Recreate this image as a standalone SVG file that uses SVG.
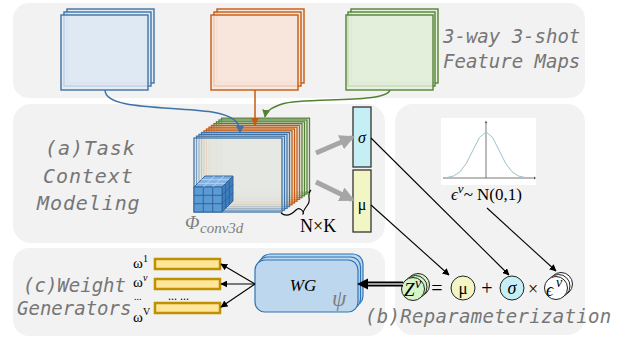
<svg xmlns="http://www.w3.org/2000/svg" width="628" height="339" viewBox="0 0 628 339">
  <style>
    .panel { fill: #f2f2f2; }
    .ptxt { font-family: "DejaVu Sans Mono", monospace; font-style: oblique; font-size: 19px; fill: #767676; }
    .math { font-family: "Liberation Serif", serif; fill: #000; }
    .it { font-style: italic; }
    .thin { stroke: #000; stroke-width: 1.1; fill: none; }
    .bar { fill: #ffe699; stroke: #bf9000; stroke-width: 2.5; }
  </style>
  <defs>
    <marker id="ah" viewBox="0 0 10 10" refX="9" refY="5" markerWidth="7" markerHeight="7" markerUnits="userSpaceOnUse" orient="auto">
      <path d="M0,0 L10,5 L0,10 z" fill="#000"/>
    </marker>
    <marker id="ahBlue" viewBox="0 0 10 10" refX="9" refY="5" markerWidth="8" markerHeight="8" markerUnits="userSpaceOnUse" orient="auto">
      <path d="M0,0 L10,5 L0,10 z" fill="#3f72a6"/>
    </marker>
    <marker id="ahOrange" viewBox="0 0 10 10" refX="9" refY="5" markerWidth="8" markerHeight="8" markerUnits="userSpaceOnUse" orient="auto">
      <path d="M0,0 L10,5 L0,10 z" fill="#c55a11"/>
    </marker>
    <marker id="ahGreen" viewBox="0 0 10 10" refX="9" refY="5" markerWidth="8" markerHeight="8" markerUnits="userSpaceOnUse" orient="auto">
      <path d="M0,0 L10,5 L0,10 z" fill="#548235"/>
    </marker>
    <marker id="ahGray" viewBox="0 0 10 10" refX="8" refY="5" markerWidth="15" markerHeight="15" markerUnits="userSpaceOnUse" orient="auto">
      <path d="M0,0 L10,5 L0,10 z" fill="#a6a6a6"/>
    </marker>
  </defs>

  <rect width="628" height="339" fill="#fff"/>

  <!-- background panels -->
  <g id="panels">
    <rect class="panel" x="13" y="3" width="572" height="95" rx="16"/>
    <rect class="panel" x="13" y="104" width="372" height="139" rx="18"/>
    <rect class="panel" x="395" y="104" width="190" height="231" rx="18"/>
    <rect class="panel" x="13" y="248" width="372" height="88" rx="16"/>
  </g>

  <!-- feature maps of the three classes -->
  <g id="map-blue" fill="#dfe8f3" stroke="#3f72a6" stroke-width="1.4">
    <rect x="67" y="9" width="87" height="74" fill-opacity="0.8"/>
    <rect x="64" y="12" width="87" height="74" fill-opacity="0.8"/>
    <rect x="61" y="15" width="87" height="75" fill-opacity="0.8"/>
  </g>
  <g id="map-orange" fill="#f8e5db" stroke="#c55a11" stroke-width="1.4">
    <rect x="217" y="9" width="87" height="74" fill-opacity="0.8"/>
    <rect x="214" y="12" width="87" height="74" fill-opacity="0.8"/>
    <rect x="211" y="15" width="87" height="75" fill-opacity="0.8"/>
  </g>
  <g id="map-green" fill="#e2efd9" stroke="#548235" stroke-width="1.4">
    <rect x="351" y="9" width="87" height="74" fill-opacity="0.8"/>
    <rect x="348" y="12" width="87" height="74" fill-opacity="0.8"/>
    <rect x="346" y="15" width="87" height="75" fill-opacity="0.8"/>
  </g>
  <g id="label-maps" class="ptxt">
    <text x="443" y="43">3-way 3-shot</text>
    <text x="443" y="68">Feature Maps</text>
  </g>

  <!-- (a) task context modeling -->
  <g id="label-a" class="ptxt" style="font-size:20px;letter-spacing:0.9px">
    <text x="45" y="155">(a)Task</text>
    <text x="43" y="183">Context</text>
    <text x="37" y="210">Modeling</text>
  </g>

  <g id="stack" stroke-width="1.3" fill="#e6e9e3" fill-opacity="0.35">
    <rect x="221.5" y="118.2" width="88" height="74" stroke="#548235"/>
    <rect x="219" y="120" width="88" height="74" stroke="#548235"/>
    <rect x="216.5" y="121.8" width="88" height="74" stroke="#548235"/>
    <rect x="214" y="123.6" width="88" height="74" stroke="#548235"/>
    <rect x="211.5" y="125.4" width="88" height="74" stroke="#c55a11"/>
    <rect x="209" y="127.2" width="88" height="74" stroke="#c55a11"/>
    <rect x="206.5" y="129" width="88" height="74" stroke="#c55a11"/>
    <rect x="204" y="130.8" width="88" height="74" stroke="#c55a11"/>
    <rect x="201.5" y="132.6" width="88" height="74" stroke="#3f72a6"/>
    <rect x="199" y="134.4" width="88" height="74" stroke="#3f72a6"/>
    <rect x="196.5" y="136.2" width="88" height="74" stroke="#3f72a6"/>
    <rect x="194" y="138" width="88" height="74" stroke="#3f72a6"/>
  </g>

  <!-- 3x3x3 convolution kernel -->
  <g id="kernel" stroke="#2f5f95" stroke-width="0.9">
    <polygon points="194,187 222,187 233,176 205,176" fill="#7fb0e0"/>
    <polygon points="222,187 233,176 233,201 222,212" fill="#3f7fc0"/>
    <rect x="194" y="187" width="28" height="25" fill="#5b9bd5"/>
    <path d="M203.3,187 V212 M212.7,187 V212 M194,195.3 H222 M194,203.7 H222" fill="none"/>
    <path d="M203.3,187 L214.3,176 M212.7,187 L223.7,176 M197.7,183.3 H225.7 M201.3,179.7 H229.3" fill="none" stroke="#bdd7ee"/>
    <path d="M225.7,183.3 V208.3 M229.3,179.7 V204.7 M222,195.3 L233,184.3 M222,203.7 L233,192.7" fill="none"/>
  </g>
  <g id="phi-label" fill="#7f7f7f" font-family="Liberation Serif, serif" font-style="italic">
    <text x="185" y="229" font-size="19">Φ</text>
    <text x="200" y="233" font-size="15">conv3d</text>
  </g>

  <g id="nk-brace">
    <path d="M281,213 C287,218 293,213 296,210 C300,206 305,213 303,214 C303,209 308,206 309,202 C310,198 307,194 311,190" class="thin" stroke-width="1"/>
    <text x="300" y="232" class="math" font-size="18">N×K</text>
  </g>

  <g id="sigma-box">
    <rect x="353" y="107" width="18" height="60" fill="#c5eef5" stroke="#333" stroke-width="1.3"/>
    <text x="362" y="143" class="math it" font-size="16" text-anchor="middle">σ</text>
  </g>
  <g id="mu-box">
    <rect x="353" y="170" width="18" height="62" fill="#f2f5c4" stroke="#333" stroke-width="1.3"/>
    <text x="362" y="210" class="math" font-size="16" text-anchor="middle">μ</text>
  </g>

  <!-- (b) reparameterization -->
  <g id="gaussian">
    <rect x="441" y="118" width="95" height="67" fill="#fff"/>
    <path d="M443,178 H534" stroke="#555" stroke-width="0.8"/>
    <path d="M534,176.6 L536,178 L534,179.4 z" fill="#555"/>
    <path d="M486,178 V122" stroke="#555" stroke-width="0.8"/>
    <path d="M484.8,123 L486,120.5 L487.2,123 z" fill="#555"/>
    <polyline points="443,177.9 447,177.5 453.5,176 460,171.8 466.5,163.1 473,150.1 479.5,137.4 486,132 492.5,137.4 499,150.1 505.5,163.1 512,171.8 518.5,176 525,177.5 530,177.9" fill="none" stroke="#9fc0cc" stroke-width="1"/>
    <text x="451" y="200" class="math" font-size="17"><tspan font-style="italic">ϵ</tspan><tspan font-style="italic" font-size="13" dy="-7">v</tspan><tspan dy="7">~ N(0,1)</tspan></text>
  </g>

  <g id="z-node">
    <circle cx="418" cy="285" r="11.5" fill="#d5f5c8" stroke="#222" stroke-width="1"/>
    <circle cx="415.5" cy="287" r="11.5" fill="#d5f5c8" stroke="#222" stroke-width="1"/>
    <circle cx="413" cy="289" r="11.5" fill="#d5f5c8" stroke="#222" stroke-width="1"/>
    <text x="404" y="296" class="math it" font-size="19">Z</text>
    <text x="415" y="288" class="math it" font-size="14">v</text>
  </g>
  <text x="437" y="295" class="math" font-size="20" text-anchor="middle">=</text>
  <g id="mu-node">
    <circle cx="463" cy="288" r="12" fill="#f2f5c4" stroke="#222" stroke-width="1"/>
    <text x="463" y="294" class="math" font-size="17" text-anchor="middle">μ</text>
  </g>
  <text x="487" y="295" class="math" font-size="20" text-anchor="middle">+</text>
  <g id="sigma-node">
    <circle cx="512" cy="288" r="12" fill="#c5eef5" stroke="#222" stroke-width="1"/>
    <text x="512" y="294" class="math it" font-size="18" text-anchor="middle">σ</text>
  </g>
  <text x="533" y="295" class="math" font-size="18" text-anchor="middle">×</text>
  <g id="eps-node" fill="#fff" stroke="#222" stroke-width="1">
    <circle cx="561" cy="284" r="11.5"/>
    <circle cx="558.5" cy="286" r="11.5"/>
    <circle cx="556" cy="288" r="11.5"/>
    <text x="546" y="296" class="math it" font-size="18" stroke="none" fill="#000">ϵ</text>
    <text x="556" y="287" class="math it" font-size="14" stroke="none" fill="#000">v</text>
  </g>

  <g id="label-b" class="ptxt">
    <text x="365" y="323" style="letter-spacing:0.3px">(b)Reparameterization</text>
  </g>

  <!-- (c) weight generators -->
  <g id="label-c" class="ptxt">
    <text x="23" y="292">(c)Weight</text>
    <text x="17" y="315">Generators</text>
  </g>

  <g id="wg">
    <rect x="260" y="254" width="103" height="52" rx="10" fill="#bdd7ee" stroke="#2e75b6" stroke-width="1.2"/>
    <rect x="257.5" y="257" width="103" height="52" rx="10" fill="#bdd7ee" stroke="#2e75b6" stroke-width="1.2"/>
    <rect x="255" y="260" width="103" height="52" rx="10" fill="#bdd7ee" stroke="#2e75b6" stroke-width="1.2"/>
    <text x="303" y="291" class="math it" font-size="17" text-anchor="middle">WG</text>
    <text x="332" y="306" font-family="Liberation Serif, serif" font-style="italic" font-size="23" fill="#7f7f7f">ψ</text>
  </g>

  <g id="weights">
    <rect class="bar" x="155" y="259" width="65" height="10"/>
    <rect class="bar" x="155" y="279" width="65" height="10"/>
    <rect class="bar" x="155" y="303" width="65" height="10"/>
    <text x="133" y="268" class="math" font-size="15">ω<tspan font-size="10" dy="-6">1</tspan></text>
    <text x="133" y="287" class="math" font-size="15">ω<tspan font-size="10" dy="-6" font-style="italic">v</tspan></text>
    <text x="134" y="300" class="math" font-size="10">...</text>
    <text x="168" y="300" class="math" font-size="12">... ...</text>
    <text x="133" y="322" class="math" font-size="15">ω<tspan font-size="10" dy="-7">V</tspan></text>
  </g>

  <!-- connectors -->
  <g id="connectors">
    <path d="M105,90 C105,110 170,106 212,112 C234,116 240,122 240,133" fill="none" stroke="#3f72a6" stroke-width="1.5" marker-end="url(#ahBlue)"/>
    <path d="M255,90 V125" fill="none" stroke="#c55a11" stroke-width="1.5" marker-end="url(#ahOrange)"/>
    <path d="M390,90 C386,104 305,97 282,104 C271,108 266,111 265,117" fill="none" stroke="#548235" stroke-width="1.5" marker-end="url(#ahGreen)"/>

    <path d="M316,153 L352,137.5" stroke="#a6a6a6" stroke-width="5" marker-end="url(#ahGray)"/>
    <path d="M316,182 L352,199.5" stroke="#a6a6a6" stroke-width="5" marker-end="url(#ahGray)"/>

    <path d="M371,138 L509,275" class="thin" marker-end="url(#ah)"/>
    <path d="M371,205 L449,275" class="thin" marker-end="url(#ah)"/>
    <path d="M487,208 L556,271" class="thin" marker-end="url(#ah)"/>

    <path d="M403,284 H364" stroke="#000" stroke-width="5"/>
    <path d="M403,284 H362" stroke="#cfcfcf" stroke-width="1.6"/>
    <path d="M368,278.5 L357,284 L368,289.5 z" fill="#000"/>

    <path d="M255,284 L221,264" class="thin" marker-end="url(#ah)"/>
    <path d="M255,284 L221,284" class="thin" marker-end="url(#ah)"/>
    <path d="M255,284 L221,307" class="thin" marker-end="url(#ah)"/>
  </g>
</svg>
